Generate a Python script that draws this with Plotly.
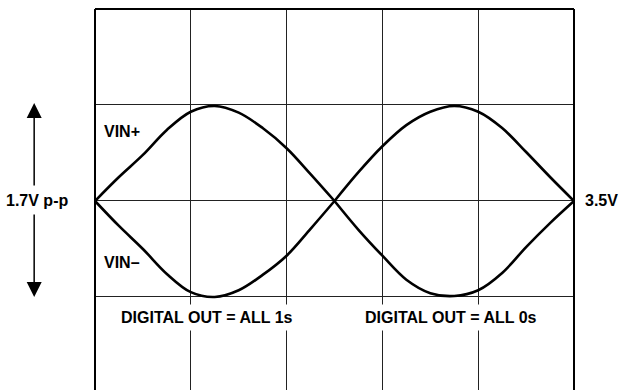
import plotly.graph_objs as go

# time axis in scope divisions, values in vertical divisions (0 = 3.5V)
t = [0, 0.25, 0.5, 0.75, 1.0, 1.25, 1.5, 1.75, 2.0, 2.25, 2.5,
     2.75, 3.0, 3.25, 3.5, 3.75, 4.0, 4.25, 4.5, 4.75, 5.0]
vin_pos = [0, 0.25, 0.48, 0.74, 0.93, 0.99, 0.92, 0.76, 0.55, 0.28, 0,
           0.30, 0.57, 0.79, 0.93, 0.99, 0.93, 0.76, 0.51, 0.25, 0]
vin_neg = [0, -0.26, -0.50, -0.76, -0.95, -1.0, -0.93, -0.77, -0.57, -0.29, 0,
           -0.30, -0.57, -0.82, -0.96, -0.99, -0.93, -0.75, -0.48, -0.23, 0]

font_family = "Arial, Liberation Sans, sans-serif"
label_font = dict(family=font_family, size=16, color='black')


def wave(x, y):
    return go.Scatter(
        x=x,
        y=y,
        mode='lines',
        line=dict(color='black', width=2.6, shape='spline', smoothing=1.0),
        hoverinfo='skip'
    )


trace = []
# each half period is its own arc so the crossings stay sharp
for y in (vin_pos, vin_neg):
    trace.append(wave(t[:11], y[:11]))
    trace.append(wave(t[10:], y[10:]))

annotations = [
    dict(x=0.07, y=0.72, xref='x', yref='y', text="<b>VIN+</b>", showarrow=False,
         xanchor='left', font=label_font),
    dict(x=0.07, y=-0.64, xref='x', yref='y', text="<b>VIN–</b>", showarrow=False,
         xanchor='left', font=label_font),
    dict(x=1.17, y=-1.21, xref='x', yref='y', text="<b>DIGITAL OUT = ALL 1s</b>",
         showarrow=False, bgcolor='white', borderpad=4, font=label_font),
    dict(x=3.72, y=-1.21, xref='x', yref='y', text="<b>DIGITAL OUT = ALL 0s</b>",
         showarrow=False, bgcolor='white', borderpad=4, font=label_font),
    dict(x=-0.121, y=0, xref='paper', yref='y', text="<b>1.7V p-p</b>", showarrow=False,
         xanchor='center', font=label_font),
    dict(x=1.019, y=0, xref='paper', yref='y', text="<b>3.5V</b>", showarrow=False,
         xanchor='left', font=label_font),
    # up / down arrows
    dict(x=-0.127, y=1.02, xref='paper', yref='y', text="", showarrow=True,
         ax=0, ay=84, arrowhead=2, arrowsize=2, arrowwidth=1.5, arrowcolor='black'),
    dict(x=-0.127, y=-1.0, xref='paper', yref='y', text="", showarrow=True,
         ax=0, ay=-84, arrowhead=2, arrowsize=2, arrowwidth=1.5, arrowcolor='black'),
]

shapes = [
    dict(type='line', xref='paper', yref='paper', x0=0, x1=0, y0=0, y1=1,
         line=dict(color='black', width=2)),
    dict(type='line', xref='paper', yref='paper', x0=1, x1=1, y0=0, y1=1,
         line=dict(color='black', width=2)),
    dict(type='line', xref='paper', yref='paper', x0=0, x1=1, y0=1, y1=1,
         line=dict(color='black', width=2)),
]

grid = dict(showgrid=True, gridcolor='#222222', gridwidth=1, dtick=1, tick0=0,
            showticklabels=False, ticks='', zeroline=True, zerolinecolor='#222222',
            zerolinewidth=1, showline=False, fixedrange=True)

layout = go.Layout(
    width=619,
    height=390,
    margin=dict(l=95, r=45, t=9, b=0),
    paper_bgcolor='white',
    plot_bgcolor='white',
    showlegend=False,
    xaxis=dict(range=[0, 5], **grid),
    yaxis=dict(range=[-1.969, 2], **grid),
    annotations=annotations,
    shapes=shapes,
    font=dict(family=font_family),
    hovermode=False
)

fig = go.Figure(data=trace, layout=layout)
# drop the default page margin so the figure sits at the window corner
fig.write_html("out.html", config=dict(displayModeBar=False),
               post_script="document.body.style.margin='0';document.body.style.overflow='hidden';")
